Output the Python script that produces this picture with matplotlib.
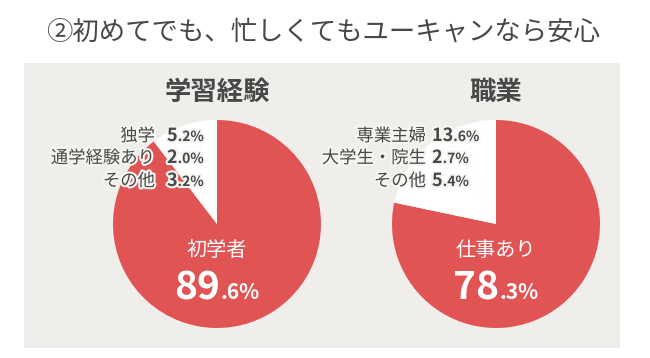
import matplotlib
matplotlib.use("Agg")
import matplotlib.pyplot as plt
from matplotlib.patches import Rectangle
import matplotlib.patheffects as pe

plt.rcParams['font.family'] = ['Noto Sans CJK JP', 'DejaVu Sans']

# ---- data ----
title = "②初めてでも、忙しくてもユーキャンなら安心"
left_title = "学習経験"
left_cats = ["初学者", "独学", "通学経験あり", "その他"]
left_vals = [89.6, 5.2, 2.0, 3.2]
right_title = "職業"
right_cats = ["仕事あり", "専業主婦", "大学生・院生", "その他"]
right_vals = [78.3, 13.6, 2.7, 5.4]

RED = "#E05453"
PANEL = "#EFEEEA"
DARK = "#484848"

W, H = 650, 358
fig = plt.figure(figsize=(W / 100, H / 100), dpi=100)
fig.patch.set_facecolor("white")

bg = fig.add_axes([0, 0, 1, 1], zorder=0)
bg.set_xlim(0, W); bg.set_ylim(H, 0); bg.axis("off")
bg.add_patch(Rectangle((24, 63), 596, 285, facecolor=PANEL, edgecolor="none"))

ov = fig.add_axes([0, 0, 1, 1], zorder=5)
ov.set_xlim(0, W); ov.set_ylim(H, 0); ov.axis("off")
ov.patch.set_alpha(0)

fig.canvas.draw()
renderer = fig.canvas.get_renderer()


def width_of(s, size, weight):
    t = ov.text(0, 0, s, fontsize=size, fontweight=weight)
    w = t.get_window_extent(renderer).width
    t.remove()
    return w


def rich(x, y, parts, ha="left", halo=None):
    widths = [width_of(s, sz, wt) for s, sz, wt, c in parts]
    total = sum(widths)
    if ha == "center":
        x0 = x - total / 2
    elif ha == "right":
        x0 = x - total
    else:
        x0 = x
    for (s, sz, wt, c), w in zip(parts, widths):
        kw = {}
        if halo:
            kw["path_effects"] = [pe.withStroke(linewidth=3, foreground=halo)]
        ov.text(x0, y, s, fontsize=sz, fontweight=wt, color=c,
                ha="left", va="baseline", **kw)
        x0 += w


def split_num(v):
    s = f"{v:.1f}"
    a, b = s.split(".")
    return a, "." + b + "%"


def pie_panel(cx, cy, r, cats, vals, ptitle, label_right, num_left):
    pa = fig.add_axes([(cx - r) / W, (H - cy - r) / H, 2 * r / W, 2 * r / H], zorder=2)
    colors = [RED] + ["white"] * (len(vals) - 1)
    pa.pie(vals, colors=colors, startangle=90, counterclock=False, radius=1,
           wedgeprops=dict(linewidth=0))
    pa.set_xlim(-1, 1); pa.set_ylim(-1, 1); pa.set_aspect("equal"); pa.axis("off")

    ov.text(cx, 92, ptitle, fontsize=19, fontweight="bold", color=DARK,
            ha="center", va="center")

    halo = "#F6F5F2"
    for cat, v, yb in zip(cats[1:], vals[1:], [141, 163, 186]):
        ov.text(label_right, yb, cat, fontsize=12.5, color=DARK, ha="right",
                va="baseline",
                path_effects=[pe.withStroke(linewidth=3, foreground=halo)])
        a, b = split_num(v)
        rich(num_left, yb, [(a, 13, "bold", DARK), (b, 10, "bold", DARK)],
             ha="left", halo=halo)

    ov.text(cx, 250, cats[0], fontsize=14.5, color="white", ha="center", va="center")
    a, b = split_num(vals[0])
    rich(cx, 299, [(a, 28, "bold", "white"), (b, 15, "bold", "white")], ha="center")


ov.text(323, 32, title, fontsize=19, color=DARK, ha="center", va="center")

pie_panel(217, 224, 104, left_cats, left_vals, left_title, 155, 167)
pie_panel(496, 224, 104, right_cats, right_vals, right_title, 426, 432)

fig.savefig("out.png", dpi=100, facecolor="white")
